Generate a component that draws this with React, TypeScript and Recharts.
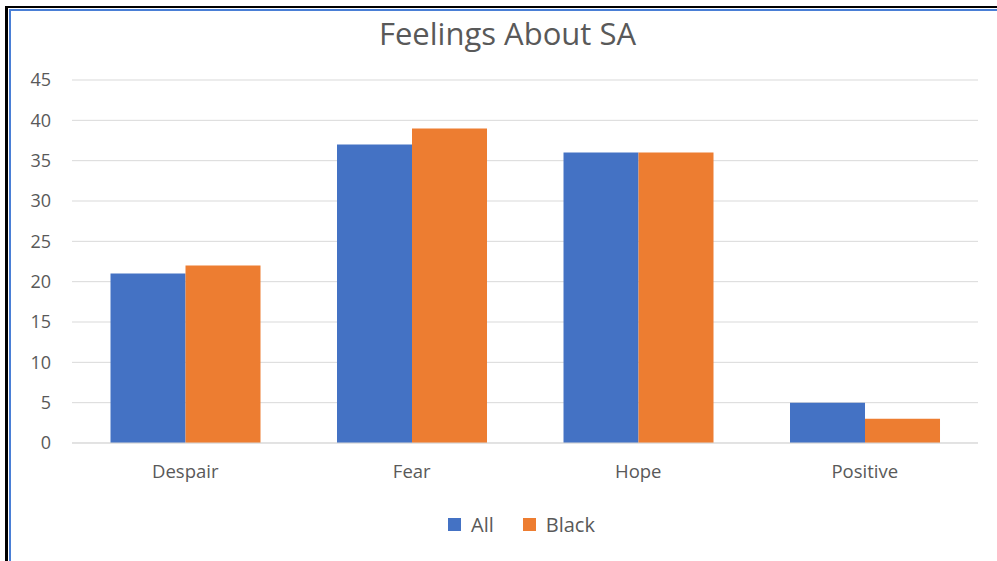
import { BarChart, Bar, XAxis, YAxis, CartesianGrid } from "recharts";

const categories = ["Despair", "Fear", "Hope", "Positive"];
const allValues = [21, 37, 36, 5];
const blackValues = [22, 39, 36, 3];
const yTicks = [0, 5, 10, 15, 20, 25, 30, 35, 40, 45];

const SERIES = [
  { key: "all", name: "All", color: "#4472c4" },
  { key: "black", name: "Black", color: "#ed7d31" },
];

const FONT = "'Open Sans', 'Noto Sans', sans-serif";
const TEXT = "#595959";

const data = categories.map((category, i) => ({
  category,
  all: allValues[i],
  black: blackValues[i],
}));

export default function App() {
  return (
    <div
      style={{
        position: "fixed",
        left: 0,
        top: 0,
        width: 997,
        height: 561,
        background: "#fff",
        overflow: "hidden",
        fontFamily: FONT,
      }}
    >
      {/* frame */}
      <div style={{ position: "absolute", left: 5, top: 6, width: 992, height: 2, background: "#000" }} />
      <div style={{ position: "absolute", left: 5, top: 6, width: 3, height: 555, background: "#000" }} />
      <div style={{ position: "absolute", left: 9, top: 9, width: 988, height: 2, background: "#4a7fd6" }} />
      <div style={{ position: "absolute", left: 9, top: 9, width: 2, height: 552, background: "#4a7fd6" }} />

      {/* title */}
      <div
        style={{
          position: "absolute",
          left: 0,
          top: 12,
          width: 1015,
          textAlign: "center",
          fontSize: 31,
          color: TEXT,
        }}
      >
        Feelings About SA
      </div>

      <div style={{ position: "absolute", left: 0, top: 0 }}>
        <BarChart
          width={997}
          height={561}
          data={data}
          margin={{ top: 80, right: 19, bottom: 88, left: 0 }}
          barCategoryGap="17%"
          barGap={0}
        >
          <CartesianGrid vertical={false} stroke="#d9d9d9" />
          <XAxis
            dataKey="category"
            height={30}
            tickLine={false}
            axisLine={{ stroke: "#d9d9d9" }}
            tickMargin={16}
            tick={{ fill: TEXT, fontSize: 18.5, fontFamily: FONT }}
          />
          <YAxis
            width={72}
            domain={[0, 45]}
            ticks={yTicks}
            axisLine={false}
            tickLine={false}
            tickMargin={15}
            tick={{ fill: TEXT, fontSize: 18, fontFamily: FONT }}
          />
          {SERIES.map((s) => (
            <Bar key={s.key} dataKey={s.key} name={s.name} fill={s.color} isAnimationActive={false} />
          ))}
        </BarChart>
      </div>

      {/* legend */}
      <div
        style={{
          position: "absolute",
          left: 448,
          top: 511,
          display: "flex",
          alignItems: "center",
          fontSize: 20,
          color: TEXT,
        }}
      >
        {SERIES.map((s) => (
          <div key={s.key} style={{ display: "flex", alignItems: "center", marginRight: 29 }}>
            <div style={{ width: 13, height: 13, background: s.color, marginRight: 10 }} />
            <span>{s.name}</span>
          </div>
        ))}
      </div>
    </div>
  );
}
